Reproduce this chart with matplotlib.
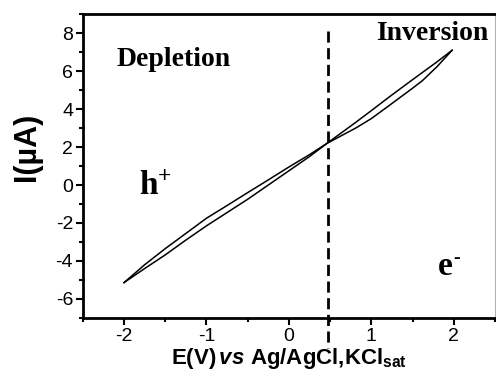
import matplotlib
matplotlib.use('Agg')
import matplotlib.pyplot as plt
from matplotlib.ticker import MultipleLocator

plt.rcParams['font.family'] = 'Liberation Sans'
plt.rcParams['axes.unicode_minus'] = False
plt.rcParams['mathtext.fontset'] = 'custom'
plt.rcParams['mathtext.rm'] = 'Liberation Serif:bold'
plt.rcParams['mathtext.bf'] = 'Liberation Sans:bold'
plt.rcParams['mathtext.it'] = 'Liberation Sans:bold:italic'

# two sweeps of the I-E loop
sweep1_E = [-2.0, -1.75, -1.5, -1.25, -1.0, -0.75, -0.5, -0.25, 0.0, 0.25, 0.46,
            0.81, 1.0, 1.22, 1.5, 1.62, 1.8, 1.98]
sweep1_I = [-5.14, -4.2, -3.35, -2.55, -1.75, -1.08, -0.4, 0.27, 0.95, 1.6, 2.19,
            3.0, 3.5, 4.2, 5.1, 5.5, 6.25, 7.1]
sweep2_E = [-2.0, -1.75, -1.5, -1.25, -1.0, -0.75, -0.5, -0.25, 0.0, 0.25, 0.46,
            0.81, 1.0, 1.22, 1.5, 1.62, 1.8, 1.98]
sweep2_I = [-5.14, -4.4, -3.68, -2.9, -2.15, -1.45, -0.75, 0.0, 0.75, 1.5, 2.19,
            3.3, 3.92, 4.65, 5.55, 5.93, 6.5, 7.1]
E_boundary = 0.47

fig = plt.figure(figsize=(4.96, 3.83), dpi=100)
ax = fig.add_axes([0.167, 0.170, 0.831, 0.793])

ax.plot(sweep1_E, sweep1_I, color='black', lw=1.1)
ax.plot(sweep2_E, sweep2_I, color='black', lw=1.1)
ax.plot([E_boundary, E_boundary], [8.1, -8.6], color='black', lw=2,
        dashes=(4, 2), clip_on=False)

ax.set_xlim(-2.5, 2.5)
ax.set_ylim(-7, 9)
ax.xaxis.set_major_locator(MultipleLocator(1))
ax.xaxis.set_minor_locator(MultipleLocator(0.5))
ax.yaxis.set_major_locator(MultipleLocator(2))
ax.yaxis.set_minor_locator(MultipleLocator(1))
ax.tick_params(which='major', direction='out', length=5, width=1.5, labelsize=14, pad=2)
ax.tick_params(which='minor', direction='out', length=3, width=1.5)

for s in ['left', 'bottom', 'top']:
    ax.spines[s].set_linewidth(2)
ax.spines['right'].set_color('#b0b0b0')
ax.spines['right'].set_linewidth(0.8)

ax.set_xlabel(r'$\mathbf{E(V)}\,\mathit{vs}\ \mathbf{Ag/AgCl{,}KCl_{sat}}$', fontsize=16, labelpad=1)
ax.set_ylabel('I(µA)', fontsize=22, fontweight='bold')
ax.yaxis.set_label_coords(-0.10, 0.564)

ax.text(-1.4, 6.6, 'Depletion', family='Liberation Serif', fontweight='bold',
        fontsize=20, ha='center', va='center')
ax.text(1.74, 8.0, 'Inversion', family='Liberation Serif', fontweight='bold',
        fontsize=20, ha='center', va='center')
ax.text(-1.62, -0.1, r'$\mathrm{h}^{\mathrm{+}}$', fontsize=24, ha='center', va='center')
ax.text(1.9, -4.3, 'e', family='Liberation Serif', fontweight='bold',
        fontsize=24, ha='center', va='center')
ax.text(2.03, -3.85, '-', family='Liberation Serif', fontweight='bold',
        fontsize=14, ha='center', va='center')

fig.savefig('out.png', dpi=100)
